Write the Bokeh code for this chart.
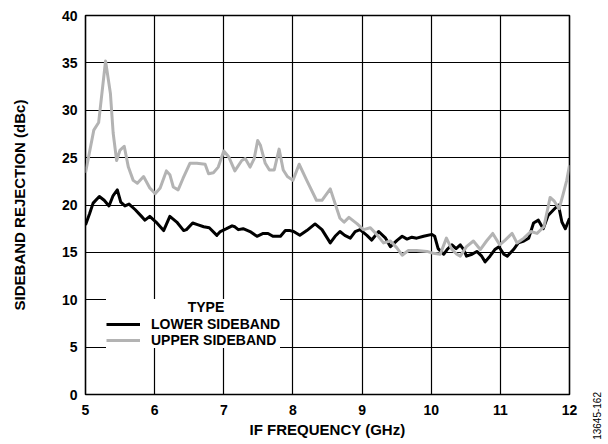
from bokeh.plotting import figure
from bokeh.models import Range1d, FixedTicker, Legend, LegendItem, Div
from bokeh.layouts import row
from bokeh.embed import file_html
from bokeh.resources import INLINE

x_ticks = [5, 6, 7, 8, 9, 10, 11, 12]
y_ticks = [0, 5, 10, 15, 20, 25, 30, 35, 40]

upper_x = [5.00, 5.12, 5.19, 5.29, 5.36, 5.40, 5.45, 5.50, 5.56, 5.62, 5.69, 5.75, 5.84, 5.93,
           6.01, 6.08, 6.17, 6.22, 6.27, 6.34, 6.41, 6.51, 6.61, 6.73, 6.78, 6.85, 6.92, 7.00,
           7.07, 7.16, 7.26, 7.31, 7.38, 7.44, 7.49, 7.53, 7.60, 7.66, 7.73, 7.80, 7.86, 7.92,
           8.00, 8.09, 8.20, 8.34, 8.42, 8.54, 8.68, 8.74, 8.81, 8.93, 9.02, 9.12, 9.21, 9.31,
           9.41, 9.50, 9.58, 9.67, 9.79, 9.94, 10.03, 10.13, 10.22, 10.30, 10.37, 10.42, 10.51,
           10.61, 10.71, 10.80, 10.89, 10.99, 11.07, 11.17, 11.24, 11.34, 11.44, 11.53, 11.63,
           11.72, 11.78, 11.85, 11.91, 11.96, 12.00]
upper_y = [23.4, 27.9, 28.7, 35.2, 31.8, 27.6, 24.7, 25.8, 26.2, 24.0, 22.6, 22.3, 23.0, 21.8,
           21.2, 21.8, 23.6, 23.2, 21.9, 21.6, 22.8, 24.4, 24.4, 24.3, 23.3, 23.4, 24.0, 25.7,
           25.1, 23.6, 24.7, 24.9, 24.0, 24.9, 26.8, 26.3, 24.4, 23.7, 23.7, 25.9, 23.7, 23.0,
           22.6, 24.3, 22.6, 20.5, 20.5, 21.7, 18.6, 18.2, 18.7, 18.0, 17.4, 17.6, 16.9, 16.0,
           16.2, 15.5, 14.7, 15.2, 15.2, 15.1, 14.9, 14.8, 16.5, 15.3, 14.8, 14.6, 15.6,
           16.2, 15.3, 16.2, 17.0, 15.8, 16.3, 17.0, 16.0, 16.5, 17.2, 17.0, 17.7,
           20.8, 20.4, 19.6, 21.2, 22.6, 24.2]

lower_x = [5.00, 5.06, 5.11, 5.20, 5.27, 5.34, 5.40, 5.46, 5.51, 5.57, 5.63, 5.72, 5.81, 5.86,
           5.93, 6.02, 6.13, 6.22, 6.32, 6.42, 6.46, 6.55, 6.63, 6.71, 6.79, 6.90, 6.95, 7.04,
           7.12, 7.16, 7.21, 7.28, 7.38, 7.48, 7.57, 7.64, 7.71, 7.82, 7.89, 7.96, 8.01, 8.10,
           8.20, 8.32, 8.42, 8.54, 8.61, 8.68, 8.75, 8.83, 8.90, 8.97, 9.07, 9.14, 9.24, 9.34,
           9.41, 9.51, 9.58, 9.65, 9.72, 9.79, 9.89, 10.01, 10.05, 10.10, 10.18, 10.23, 10.30,
           10.36, 10.42, 10.47, 10.51, 10.59, 10.66, 10.73, 10.78, 10.85, 10.92, 10.98, 11.05,
           11.10, 11.19, 11.26, 11.34, 11.41, 11.48, 11.55, 11.62, 11.69, 11.77, 11.84, 11.89,
           11.94, 12.00]
lower_y = [17.9, 19.1, 20.2, 20.9, 20.5, 19.9, 21.0, 21.6, 20.3, 19.9, 20.1, 19.5, 18.8, 18.4,
           18.8, 18.2, 17.3, 18.8, 18.2, 17.3, 17.4, 18.1, 17.9, 17.7, 17.6, 16.8, 17.2, 17.5,
           17.8, 17.7, 17.4, 17.5, 17.2, 16.7, 17.0, 17.0, 16.7, 16.7, 17.3, 17.3, 17.2, 16.8,
           17.3, 18.0, 17.4, 16.0, 16.7, 17.2, 16.8, 16.5, 17.2, 17.4, 16.8, 16.3, 17.2, 16.5,
           15.6, 16.3, 16.7, 16.4, 16.6, 16.5, 16.7, 16.9, 16.7, 15.4, 14.8, 15.3, 15.8,
           15.4, 15.8, 15.3, 14.6, 14.8, 15.1, 14.6, 14.0, 14.6, 15.3, 15.6, 14.8,
           14.6, 15.3, 16.0, 16.2, 16.5, 18.1, 18.4, 17.5, 18.9, 19.5, 20.0, 18.2,
           17.5, 18.6]

FONT = "Liberation Sans"

p = figure(width=589, height=440, x_range=Range1d(5, 12), y_range=Range1d(0, 40),
           output_backend="svg", toolbar_location=None,
           min_border_left=85, min_border_right=20, min_border_top=15, min_border_bottom=45)

p.outline_line_color = "black"
p.outline_line_width = 1.6
p.outline_line_alpha = 1.0
p.background_fill_color = None
p.border_fill_color = None

for ax, ticks in ((p.xaxis, x_ticks), (p.yaxis, y_ticks)):
    ax.ticker = FixedTicker(ticks=ticks)
    ax.major_tick_out = 0
    ax.major_tick_in = 0
    ax.minor_tick_out = 0
    ax.minor_tick_in = 0
    ax.axis_line_color = None
    ax.major_label_text_font = FONT
    ax.major_label_text_font_style = "bold"
    ax.major_label_text_font_size = "14px"
    ax.major_label_text_color = "black"
    ax.axis_label_text_font = FONT
    ax.axis_label_text_font_style = "bold"
    ax.axis_label_text_font_size = "15px"
    ax.axis_label_text_color = "black"

p.xaxis.axis_label = "IF FREQUENCY (GHz)"
p.yaxis.axis_label = "SIDEBAND REJECTION (dBc)"
p.xaxis.major_label_standoff = 10
p.xaxis.axis_label_standoff = 3
p.yaxis.major_label_standoff = 8
p.yaxis.axis_label_standoff = 31

p.xgrid.ticker = FixedTicker(ticks=x_ticks)
p.ygrid.ticker = FixedTicker(ticks=y_ticks)
for g in (p.xgrid, p.ygrid):
    g.grid_line_color = "black"
    g.grid_line_width = 1.2
    g.grid_line_alpha = 1.0

r_low = p.line(lower_x, lower_y, line_color="black", line_width=3, line_join="round")
r_up = p.line(upper_x, upper_y, line_color="#b3b3b3", line_width=3, line_join="round")

legend = Legend(items=[LegendItem(label="LOWER SIDEBAND", renderers=[r_low]),
                       LegendItem(label="UPPER SIDEBAND", renderers=[r_up])],
                title="\u00a0" * 21 + "TYPE",
                location=(21, 46), margin=0, padding=10, spacing=0,
                glyph_width=34, glyph_height=14, label_height=14, label_standoff=11,
                title_standoff=1, border_line_color=None,
                background_fill_color="white", background_fill_alpha=1.0)
legend.label_text_font = FONT
legend.label_text_font_style = "bold"
legend.label_text_font_size = "14px"
legend.title_text_font = FONT
legend.title_text_font_style = "bold"
legend.title_text_font_size = "14px"
legend.label_text_color = "black"
legend.title_text_color = "black"
p.add_layout(legend, "center")

# sideways figure number in a narrow strip to the right of the plot
fig_number = "13645-162"
side = Div(text=('<div style="writing-mode: vertical-rl; transform: rotate(180deg); '
                 'font-family: \'Liberation Sans\'; font-size: 10px; line-height: 11px; '
                 'white-space: nowrap; color: black; margin-top: 392px; margin-left: 3px;">'
                 + fig_number + '</div>'),
           width=19, height=440, margin=0)

layout = row(p, side, spacing=0)
open("out.html", "w").write(file_html(layout, INLINE))
